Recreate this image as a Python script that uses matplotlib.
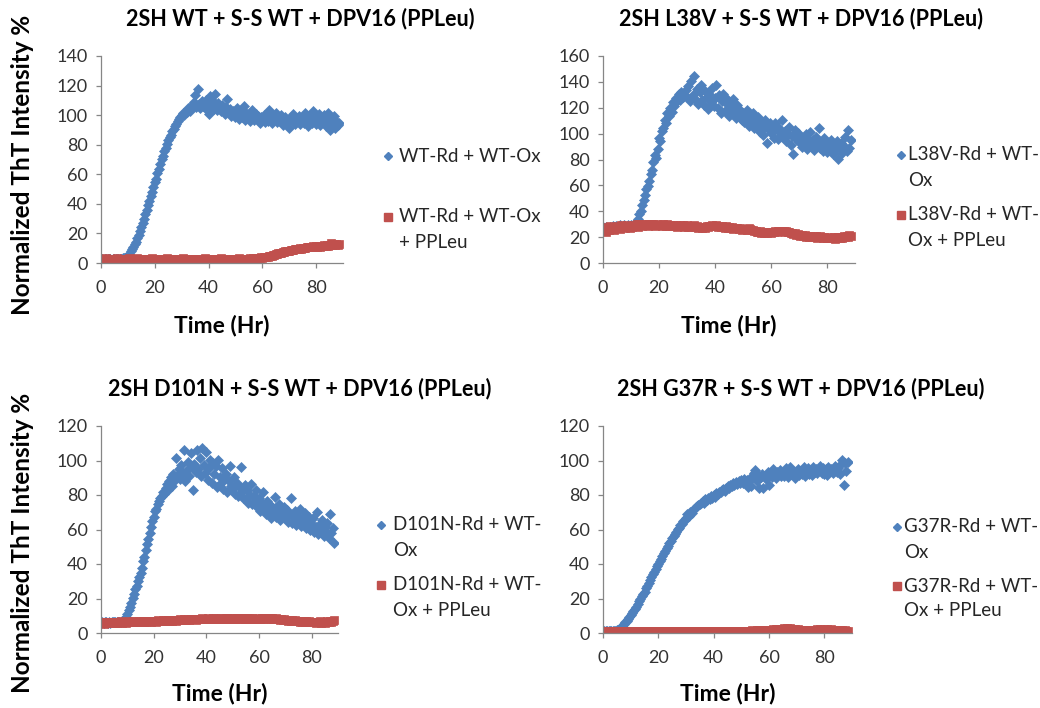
import numpy as np
import matplotlib
matplotlib.use("Agg")
import matplotlib.pyplot as plt
from matplotlib.lines import Line2D

plt.rcParams['font.family'] = ['Lato', 'DejaVu Sans']

# sampling times (Hr), one reading every 0.5 hr
time_hr = np.arange(0, 89, 0.5)

# ---- panel 1: 2SH WT ----
wt_ox = [
    2.4, 2.6, 2.3, 2.5, 2.7, 2.4, 2.6, 2.5, 2.3, 2.6,
    2.5, 2.7, 2.4, 2.6, 2.8, 2.9, 3.1, 3.3, 3.6, 4.2,
    5.0, 6.3, 7.8, 9.2, 11.0, 12.8, 14.5, 16.9, 19.0, 21.6,
    24.5, 27.0, 29.8, 33.1, 35.6, 38.9, 42.0, 45.3, 47.8, 51.2,
    54.6, 57.0, 60.8, 63.5, 66.9, 70.2, 72.4, 75.9, 78.0, 80.6,
    83.2, 85.0, 86.9, 89.4, 90.5, 92.8, 94.0, 95.9, 97.2, 99.0,
    100.1, 101.5, 100.4, 103.0, 102.2, 104.5, 103.1, 106.2, 104.8, 108.9,
    113.5, 105.4, 118.0, 107.2, 104.6, 109.8, 106.3, 105.0, 110.4, 107.1,
    101.0, 112.8, 106.0, 109.5, 104.2, 114.0, 103.6, 108.1, 105.2, 102.9,
    106.7, 103.4, 100.6, 105.8, 110.6, 101.9, 104.3, 99.5, 103.0, 101.2,
    98.8, 105.1, 100.2, 97.5, 103.6, 99.0, 106.4, 96.8, 101.4, 98.2,
    100.5, 95.8, 103.2, 98.0, 96.5, 101.0, 97.3, 99.6, 95.0, 98.9,
    97.1, 100.3, 95.6, 99.2, 96.0, 103.8, 97.9, 94.6, 99.5, 96.8,
    101.6, 95.3, 98.4, 96.1, 100.0, 93.5, 97.7, 99.0, 95.2, 97.0,
    91.2, 98.6, 96.4, 100.8, 94.0, 97.5, 95.9, 99.3, 93.8, 96.9,
    98.2, 94.5, 101.7, 96.0, 92.7, 99.4, 97.1, 95.0, 102.8, 96.3,
    94.2, 98.7, 100.9, 93.6, 97.2, 95.1, 99.8, 92.4, 96.6, 101.5,
    89.8, 97.3, 94.0, 99.1, 91.5, 96.2, 93.1, 94.5,
]
wt_ox_ppleu = [
    2.0, 2.9, 2.4, 1.8, 3.1, 2.6, 2.2, 3.0, 2.5, 1.9,
    2.8, 2.3, 3.2, 2.1, 2.7, 2.4, 3.0, 1.9, 2.6, 2.8,
    2.2, 3.1, 2.5, 2.0, 2.9, 2.4, 2.7, 3.2, 2.1, 2.6,
    2.9, 2.3, 2.5, 3.0, 2.0, 2.8, 2.4, 2.6, 3.1, 2.2,
    2.7, 2.5, 2.9, 2.1, 3.0, 2.4, 2.6, 2.8, 2.2, 3.1,
    2.5, 2.0, 2.9, 2.6, 2.3, 3.0, 2.4, 2.7, 2.1, 2.8,
    2.6, 3.1, 2.2, 2.5, 2.9, 2.4, 2.0, 2.8, 2.6, 3.0,
    2.3, 2.7, 2.5, 2.9, 2.1, 2.8, 2.6, 3.1, 2.4, 2.2,
    2.9, 2.5, 2.7, 2.0, 3.0, 2.6, 2.3, 2.8, 2.5, 3.1,
    2.4, 2.2, 2.9, 2.6, 2.8, 2.1, 3.0, 2.5, 2.7, 2.4,
    2.8, 2.6, 2.3, 3.1, 2.5, 2.9, 2.4, 2.7, 3.0, 2.6,
    2.9, 3.1, 2.8, 3.3, 3.0, 3.4, 3.2, 3.6, 3.5, 3.8,
    3.7, 4.1, 3.9, 4.3, 4.2, 4.6, 4.5, 5.0, 5.3, 5.6,
    5.9, 6.1, 6.5, 6.8, 7.0, 7.4, 7.3, 7.8, 8.0, 8.3,
    8.1, 8.6, 8.9, 8.7, 9.2, 9.5, 9.3, 9.8, 10.0, 9.7,
    10.2, 10.4, 10.1, 10.6, 10.8, 10.5, 11.0, 10.9, 11.2, 10.7,
    11.3, 11.1, 11.5, 11.0, 11.8, 11.4, 11.9, 11.6, 12.2, 11.7,
    12.5, 13.4, 12.0, 12.8, 11.9, 13.0, 12.4, 12.7,
]

# ---- panel 2: 2SH L38V ----
l38v_ox = [
    27.5, 26.0, 28.2, 27.0, 26.8, 28.0, 27.3, 28.5, 27.8, 28.9,
    28.2, 27.6, 29.0, 28.4, 27.9, 29.3, 28.6, 28.0, 29.5, 28.8,
    29.1, 28.5, 29.8, 30.4, 31.5, 34.0, 37.5, 40.2, 44.8, 49.0,
    52.5, 56.9, 59.8, 63.0, 68.5, 71.6, 78.2, 83.5, 81.0, 88.4,
    96.5, 94.0, 101.8, 104.5, 110.2, 108.0, 116.3, 113.5, 119.8, 117.0,
    124.5, 121.2, 127.8, 125.0, 130.6, 126.2, 132.4, 128.0, 129.5, 133.8,
    128.4, 136.9, 125.6, 141.0, 130.2, 144.8, 127.1, 134.5, 123.0, 131.8,
    137.5, 126.0, 122.4, 133.2, 128.5, 118.9, 131.0, 124.2, 135.6, 121.5,
    127.9, 137.2, 119.8, 129.5, 115.6, 125.0, 130.8, 117.4, 127.2, 122.0,
    113.8, 124.6, 119.0, 126.4, 116.5, 111.9, 121.8, 114.0, 118.6, 110.5,
    116.2, 108.8, 113.4, 118.5, 105.6, 112.0, 109.2, 115.8, 104.5, 110.1,
    106.8, 112.6, 101.5, 108.4, 98.9, 105.0, 110.8, 92.8, 103.6, 107.9,
    100.4, 105.8, 97.0, 108.2, 102.5, 95.6, 104.0, 99.1, 110.5, 96.8,
    101.8, 94.5, 99.6, 105.2, 91.0, 98.2, 84.5, 102.8, 95.5, 100.6,
    93.2, 97.9, 89.4, 96.0, 92.6, 99.8, 88.0, 95.1, 101.0, 90.7,
    94.8, 87.5, 97.2, 91.8, 104.5, 89.2, 93.6, 86.4, 96.4, 90.1,
    85.6, 92.8, 88.9, 95.4, 84.0, 91.2, 87.0, 94.0, 80.2, 89.5,
    92.6, 84.8, 90.4, 97.5, 86.2, 103.0, 88.6, 95.2,
]
l38v_ox_ppleu = [
    24.5, 27.8, 23.6, 26.4, 25.2, 28.5, 26.0, 27.2, 25.6, 28.0,
    27.0, 28.4, 26.5, 29.0, 27.6, 28.2, 26.8, 29.4, 28.0, 27.4,
    28.8, 27.9, 29.2, 28.5, 29.8, 28.2, 30.0, 29.1, 28.6, 30.3,
    29.5, 30.1, 28.9, 29.8, 30.4, 29.2, 30.0, 28.8, 29.6, 30.2,
    29.0, 29.7, 28.5, 30.0, 29.3, 28.7, 29.9, 28.9, 29.4, 28.3,
    29.2, 28.6, 29.6, 28.1, 28.9, 29.5, 28.4, 29.0, 27.8, 28.7,
    29.3, 28.2, 28.8, 27.6, 28.5, 29.0, 27.9, 28.4, 27.2, 28.0,
    27.5, 26.8, 28.1, 27.3, 28.6, 27.9, 28.9, 28.3, 29.1, 28.5,
    28.8, 29.2, 28.1, 28.9, 27.7, 28.6, 28.0, 27.4, 28.3, 27.0,
    27.6, 26.9, 27.8, 26.5, 27.2, 26.8, 27.4, 26.2, 26.9, 25.8,
    26.6, 25.9, 26.3, 25.4, 26.8, 26.0, 25.2, 25.8, 24.6, 25.1,
    24.2, 23.6, 24.5, 23.1, 23.9, 23.4, 24.1, 22.9, 23.7, 24.0,
    23.2, 24.3, 23.8, 24.8, 24.1, 25.0, 24.4, 25.1, 24.6, 24.9,
    24.2, 24.7, 23.8, 24.0, 23.1, 23.5, 22.6, 22.9, 21.8, 22.4,
    21.6, 21.1, 21.9, 20.6, 21.3, 20.3, 20.9, 19.8, 20.6, 20.2,
    19.9, 20.5, 20.8, 19.6, 20.4, 21.0, 20.1, 19.5, 20.3, 19.2,
    19.6, 20.0, 19.1, 19.7, 19.4, 20.2, 18.9, 19.8, 20.4, 19.5,
    20.1, 19.6, 20.8, 20.3, 21.2, 19.9, 21.5, 20.6,
]

# ---- panel 3: 2SH D101N ----
d101n_ox = [
    6.0, 6.3, 5.8, 6.2, 6.1, 5.9, 6.4, 6.0, 6.2, 6.3,
    6.1, 6.4, 6.2, 6.5, 6.3, 6.6, 6.8, 7.2, 8.0, 9.3,
    11.0, 13.2, 15.1, 17.6, 20.5, 22.4, 25.3, 27.1, 30.2, 32.5,
    35.0, 37.8, 41.5, 44.2, 48.0, 51.6, 54.3, 58.2, 61.5, 64.8,
    67.2, 70.5, 72.1, 74.9, 76.8, 78.4, 79.6, 82.0, 80.5, 84.3,
    86.5, 83.0, 88.2, 90.6, 85.4, 92.0, 88.6, 101.5, 91.2, 95.0,
    89.4, 97.2, 92.5, 105.8, 87.9, 94.6, 99.3, 91.0, 104.2, 96.5,
    82.8, 98.0, 93.6, 106.0, 95.2, 101.4, 90.8, 107.0, 97.5, 93.0,
    104.8, 88.5, 95.4, 100.2, 86.7, 98.6, 92.1, 96.8, 84.9, 100.5,
    90.3, 87.2, 95.8, 83.6, 89.9, 92.4, 81.5, 88.0, 97.0, 85.2,
    83.8, 90.6, 80.4, 86.9, 79.2, 84.5, 96.5, 81.6, 78.4, 85.8,
    77.5, 82.9, 75.6, 80.2, 86.4, 74.8, 79.5, 76.3, 83.1, 72.6,
    78.0, 70.5, 75.2, 81.8, 73.4, 68.9, 76.6, 71.2, 74.0, 66.4,
    72.8, 69.5, 79.0, 67.2, 71.6, 74.8, 65.3, 70.1, 68.4, 72.9,
    66.8, 71.4, 64.5, 69.0, 78.5, 63.8, 67.5, 70.8, 62.4, 68.2,
    65.6, 71.9, 61.8, 66.2, 63.5, 69.4, 60.9, 64.8, 67.0, 59.6,
    63.2, 66.6, 58.8, 61.5, 70.2, 57.4, 62.9, 60.3, 65.4, 56.2,
    61.2, 58.5, 63.8, 55.0, 68.8, 57.9, 60.6, 52.4,
]
d101n_ox_ppleu = [
    5.8, 6.4, 5.5, 6.1, 6.6, 5.7, 6.2, 5.9, 6.5, 5.6,
    6.3, 6.0, 5.8, 6.4, 6.1, 6.7, 5.9, 6.2, 6.6, 6.0,
    6.4, 6.8, 6.1, 6.5, 6.9, 6.3, 6.6, 6.2, 7.0, 6.5,
    6.7, 6.3, 6.9, 6.6, 7.1, 6.4, 6.8, 7.2, 6.5, 7.0,
    6.8, 7.1, 6.6, 7.3, 6.9, 7.2, 6.7, 7.4, 7.0, 7.3,
    7.1, 7.5, 6.9, 7.6, 7.2, 7.8, 7.4, 7.1, 7.7, 7.5,
    7.9, 7.3, 7.6, 8.0, 7.5, 7.8, 8.1, 7.6, 8.2, 7.9,
    8.0, 8.3, 7.8, 8.1, 8.4, 7.9, 8.2, 8.5, 8.0, 8.3,
    8.1, 8.6, 8.2, 8.4, 7.9, 8.5, 8.3, 8.7, 8.0, 8.4,
    8.2, 8.6, 8.1, 8.3, 8.7, 8.0, 8.5, 8.2, 8.8, 8.4,
    8.6, 8.1, 8.4, 8.9, 8.3, 8.7, 8.2, 8.5, 8.8, 8.1,
    8.4, 8.7, 8.0, 8.5, 8.2, 8.6, 8.3, 7.9, 8.4, 8.1,
    8.5, 8.2, 8.7, 8.3, 8.6, 8.9, 8.4, 8.8, 8.5, 8.2,
    8.7, 8.4, 8.1, 8.5, 7.9, 8.3, 7.8, 8.0, 7.6, 7.9,
    7.4, 7.7, 7.2, 7.6, 7.0, 7.4, 6.9, 7.3, 6.8, 7.1,
    7.0, 6.6, 7.2, 6.5, 6.9, 6.4, 6.8, 6.2, 6.7, 6.3,
    6.6, 6.1, 6.5, 6.0, 6.4, 6.2, 6.7, 5.9, 6.3, 6.6,
    6.0, 6.5, 6.8, 6.2, 7.1, 6.4, 6.9, 7.3,
]

# ---- panel 4: 2SH G37R ----
g37r_ox = [
    1.0, 1.2, 0.9, 1.1, 1.3, 1.0, 1.2, 1.1, 1.4, 1.2,
    1.5, 1.9, 2.6, 3.4, 4.2, 5.0, 6.1, 7.0, 8.2, 9.1,
    10.2, 11.5, 12.6, 14.0, 15.3, 16.8, 18.4, 19.6, 21.2, 22.7,
    24.0, 25.8, 27.2, 29.1, 30.5, 32.3, 34.0, 35.4, 37.2, 38.6,
    40.1, 41.8, 43.0, 44.6, 46.2, 47.5, 49.1, 50.6, 52.0, 53.4,
    54.9, 56.0, 57.6, 58.8, 60.2, 61.1, 62.5, 63.4, 64.8, 65.6,
    66.8, 68.9, 68.0, 70.2, 69.5, 71.3, 72.0, 72.8, 73.5, 74.4,
    74.9, 75.6, 76.3, 75.4, 77.8, 76.9, 78.5, 77.6, 79.4, 78.2,
    80.1, 79.0, 81.2, 80.3, 82.0, 81.5, 82.8, 83.6, 82.4, 84.1,
    85.0, 84.2, 86.0, 85.3, 86.8, 85.9, 87.4, 86.5, 88.0, 87.2,
    88.5, 86.9, 89.2, 87.8, 88.9, 84.5, 90.1, 85.0, 89.6, 92.8,
    94.5, 88.4, 91.5, 83.8, 90.2, 92.0, 84.2, 91.0, 89.5, 93.1,
    86.0, 92.5, 90.6, 95.2, 91.8, 89.9, 93.6, 92.0, 94.5, 90.8,
    93.0, 91.2, 95.4, 92.6, 90.5, 96.2, 91.9, 94.0, 92.8, 89.8,
    93.8, 95.0, 91.4, 94.2, 92.3, 96.0, 90.9, 93.5, 95.6, 92.1,
    94.6, 91.8, 96.5, 93.2, 95.1, 92.5, 94.9, 97.0, 93.0, 95.8,
    92.4, 94.8, 91.6, 96.2, 93.7, 95.0, 92.8, 94.2, 96.6, 93.4,
    95.5, 92.0, 97.8, 100.5, 86.0, 98.6, 94.0, 99.2,
]
g37r_ox_ppleu = [
    1.0, 1.4, 0.8, 1.2, 0.9, 1.3, 1.1, 0.7, 1.2, 1.0,
    1.3, 0.9, 1.1, 1.4, 0.8, 1.2, 1.0, 1.3, 0.9, 1.1,
    1.2, 0.8, 1.3, 1.0, 1.1, 1.4, 0.9, 1.2, 1.0, 1.3,
    0.9, 1.1, 1.3, 0.8, 1.2, 1.0, 1.4, 1.1, 0.9, 1.2,
    1.0, 1.3, 0.9, 1.1, 1.2, 0.8, 1.3, 1.0, 1.2, 0.9,
    1.1, 1.4, 1.0, 1.2, 0.9, 1.3, 1.1, 0.8, 1.2, 1.0,
    1.3, 0.9, 1.1, 1.2, 1.0, 1.4, 0.8, 1.1, 1.3, 1.0,
    1.2, 0.9, 1.1, 1.3, 1.0, 1.2, 0.8, 1.1, 1.4, 1.0,
    1.1, 1.3, 0.9, 1.2, 1.0, 1.1, 1.3, 0.9, 1.2, 1.0,
    1.2, 1.0, 1.3, 0.9, 1.1, 1.2, 1.0, 1.4, 1.1, 0.9,
    1.2, 1.1, 1.3, 1.0, 1.2, 1.4, 1.1, 1.3, 1.5, 1.2,
    1.4, 1.6, 1.3, 1.5, 1.7, 1.4, 1.6, 1.8, 1.5, 1.9,
    1.7, 2.0, 1.8, 2.2, 1.9, 2.3, 2.1, 2.5, 2.2, 2.6,
    2.4, 2.8, 2.5, 2.9, 2.6, 2.7, 2.4, 2.6, 2.2, 2.4,
    2.0, 2.2, 1.8, 2.0, 1.7, 1.9, 1.6, 1.8, 1.5, 1.7,
    1.6, 1.9, 1.7, 2.0, 1.8, 2.1, 1.9, 2.2, 2.0, 1.8,
    2.1, 1.9, 2.3, 2.0, 1.8, 2.1, 1.7, 1.9, 1.6, 1.8,
    1.5, 1.7, 1.4, 1.6, 1.3, 1.5, 1.2, 1.4,
]

titles = ["2SH WT + S-S WT + DPV16 (PPLeu)",
          "2SH L38V + S-S WT + DPV16 (PPLeu)",
          "2SH D101N + S-S WT + DPV16 (PPLeu)",
          "2SH G37R + S-S WT + DPV16 (PPLeu)"]
ox_labels = [["WT-Rd + WT-Ox"],
             ["L38V-Rd + WT-", "Ox"],
             ["D101N-Rd + WT-", "Ox"],
             ["G37R-Rd + WT-", "Ox"]]
ppleu_labels = [["WT-Rd + WT-Ox", "+ PPLeu"],
                ["L38V-Rd + WT-", "Ox + PPLeu"],
                ["D101N-Rd + WT-", "Ox + PPLeu"],
                ["G37R-Rd + WT-", "Ox + PPLeu"]]
y_max = [140, 160, 120, 120]

ox_series = [wt_ox, l38v_ox, d101n_ox, g37r_ox]
ppleu_series = [wt_ox_ppleu, l38v_ox_ppleu, d101n_ox_ppleu, g37r_ox_ppleu]

BLUE = '#4F81BD'
RED = '#C0504D'
AXIS_GRAY = '#868686'
W, H = 1040, 708


def fx(x):
    return x / W


def fy(y):
    return 1 - y / H


# axes boxes in pixels: left, top, right, bottom
boxes = [(101, 56, 343, 263), (603, 56, 855, 263),
         (101, 426, 338, 633), (603, 426, 852, 633)]
title_pos = [(300, 19), (801, 19), (300, 389), (801, 389)]
xlabel_y = [325, 325, 693, 693]
ylabel_y = [165, None, 543, None]
# legend: marker x, text x, y of first entry, y of second entry
leg_pos = [(388, 399, 156, 217), (901, 908, 155, 215),
           (381, 393, 525, 585), (897, 904, 527, 586)]

fig = plt.figure(figsize=(10.4, 7.08), dpi=100)

for i in range(4):
    l, t, r, b = boxes[i]
    ax = fig.add_axes([fx(l), fy(b), (r - l) / W, (b - t) / H])
    ax.plot(time_hr, ox_series[i], linestyle='none', marker='D', ms=4.6,
            color=BLUE, mec=BLUE, mew=0.5)
    ax.plot(time_hr, ppleu_series[i], linestyle='none', marker='s', ms=5.5,
            color=RED, mec=RED, mew=0.5)
    ax.set_xlim(0, 90)
    ax.set_ylim(0, y_max[i])
    ax.set_xticks(range(0, 81, 20))
    ax.set_yticks(range(0, y_max[i] + 1, 20))
    for side in ['top', 'right']:
        ax.spines[side].set_visible(False)
    for side in ['left', 'bottom']:
        ax.spines[side].set_color(AXIS_GRAY)
        ax.spines[side].set_linewidth(0.9)
    ax.tick_params(direction='out', length=3.5, width=0.9, color=AXIS_GRAY,
                   labelsize=13, labelcolor='#333333')
    ax.tick_params(axis='x', pad=9)
    ax.tick_params(axis='y', pad=6)
    ax.set_xlabel('Time (Hr)', fontsize=16.5, fontweight='bold', va='center')
    ax.xaxis.set_label_coords(0.5, -(xlabel_y[i] - b) / (b - t))
    if ylabel_y[i] is not None:
        ax.set_ylabel('Normalized ThT Intensity %', fontsize=17.5,
                      fontweight='bold', va='center')
        ax.yaxis.set_label_coords((23 - l) / (r - l),
                                  (b - ylabel_y[i]) / (b - t))

    tx, ty = title_pos[i]
    fig.text(fx(tx), fy(ty), titles[i], fontsize=15.5, fontweight='bold',
             ha='center', va='center')

    mx, txt_x, y1, y2 = leg_pos[i]
    fig.add_artist(Line2D([fx(mx)], [fy(y1)], marker='D', ms=4, color=BLUE,
                          mec=BLUE, linestyle='none'))
    fig.add_artist(Line2D([fx(mx)], [fy(y2)], marker='s', ms=5.5, color=RED,
                          mec=RED, linestyle='none'))
    for k, line in enumerate(ox_labels[i]):
        fig.text(fx(txt_x), fy(y1 + 26 * k), line, fontsize=13.5,
                 color='#262626', ha='left', va='center')
    for k, line in enumerate(ppleu_labels[i]):
        fig.text(fx(txt_x), fy(y2 + 25 * k), line, fontsize=13.5,
                 color='#262626', ha='left', va='center')

fig.savefig('out.png', dpi=100, facecolor='white')
